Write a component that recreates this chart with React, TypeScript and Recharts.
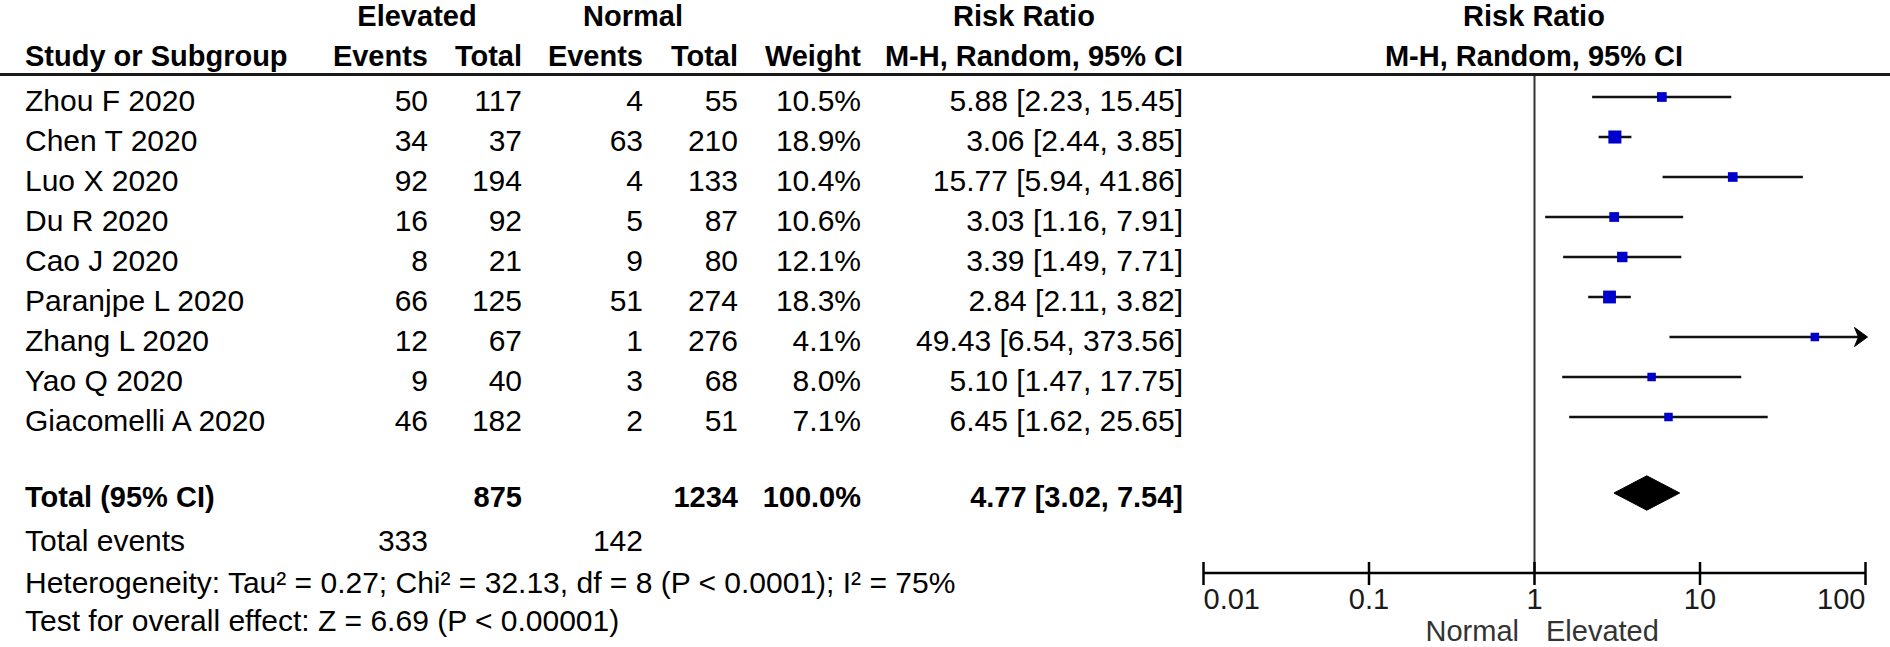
import React from 'react';
import { ComposedChart, XAxis, YAxis, Scatter, ReferenceLine, ReferenceDot, Area } from 'recharts';

// ---------- data ----------
const studies = ['Zhou F 2020', 'Chen T 2020', 'Luo X 2020', 'Du R 2020', 'Cao J 2020', 'Paranjpe L 2020', 'Zhang L 2020', 'Yao Q 2020', 'Giacomelli A 2020'];
const elevatedEvents = [50, 34, 92, 16, 8, 66, 12, 9, 46];
const elevatedTotal = [117, 37, 194, 92, 21, 125, 67, 40, 182];
const normalEvents = [4, 63, 4, 5, 9, 51, 1, 3, 2];
const normalTotal = [55, 210, 133, 87, 80, 274, 276, 68, 51];
const weights = [10.5, 18.9, 10.4, 10.6, 12.1, 18.3, 4.1, 8.0, 7.1];
const riskRatio = [5.88, 3.06, 15.77, 3.03, 3.39, 2.84, 49.43, 5.10, 6.45];
const ciLower = [2.23, 2.44, 5.94, 1.16, 1.49, 2.11, 6.54, 1.47, 1.62];
const ciUpper = [15.45, 3.85, 41.86, 7.91, 7.71, 3.82, 373.56, 17.75, 25.65];

const pooledEstimate = [4.77, 3.02, 7.54]; // RR, lower, upper
const pooledTotals = [875, 1234]; // elevated total, normal total
const pooledWeight = [100.0];
const totalEvents = [333, 142];
const xTicks = [0.01, 0.1, 1, 10, 100];
const xDomain = [0.01, 100];

// ---------- layout / style ----------
const W = 1890;
const H = 647;
const FONT = '"Liberation Sans", Arial, sans-serif';
const FS = 30;
const FSB = 29;
const TOTAL_ROW = 9.9;
const TEXT_DY = 14;
const DIAMOND_HALF = 0.43;
const COL = { name: 25, eEv: 428, eTot: 522, nEv: 643, nTot: 738, wt: 861, ci: 1183 };

const fmtCI = (r: number, l: number, u: number) => `${r.toFixed(2)} [${l.toFixed(2)}, ${u.toFixed(2)}]`;

const scatterData = studies.map((s, i) => ({ x: riskRatio[i], y: i, w: weights[i] }));
const diamondData = [
  { x: pooledEstimate[1], band: [TOTAL_ROW, TOTAL_ROW] },
  { x: pooledEstimate[0], band: [TOTAL_ROW - DIAMOND_HALF, TOTAL_ROW + DIAMOND_HALF] },
  { x: pooledEstimate[2], band: [TOTAL_ROW, TOTAL_ROW] },
];
const rowTicks = [...studies.map((_, i) => i), TOTAL_ROW];

const RowTick = (props: any) => {
  const { y, payload } = props;
  const v = payload.value;
  const base = y + TEXT_DY;
  if (v === TOTAL_ROW) {
    return (
      <g fontFamily={FONT} fontSize={FSB} fontWeight="bold" fill="#000">
        <text x={COL.name} y={base} textAnchor="start">Total (95% CI)</text>
        <text x={COL.eTot} y={base} textAnchor="end">{pooledTotals[0]}</text>
        <text x={COL.nTot} y={base} textAnchor="end">{pooledTotals[1]}</text>
        <text x={COL.wt} y={base} textAnchor="end">{`${pooledWeight[0].toFixed(1)}%`}</text>
        <text x={COL.ci} y={base} textAnchor="end">{fmtCI(pooledEstimate[0], pooledEstimate[1], pooledEstimate[2])}</text>
      </g>
    );
  }
  const i = v as number;
  return (
    <g fontFamily={FONT} fontSize={FS} fill="#000">
      <text x={COL.name} y={base} textAnchor="start">{studies[i]}</text>
      <text x={COL.eEv} y={base} textAnchor="end">{elevatedEvents[i]}</text>
      <text x={COL.eTot} y={base} textAnchor="end">{elevatedTotal[i]}</text>
      <text x={COL.nEv} y={base} textAnchor="end">{normalEvents[i]}</text>
      <text x={COL.nTot} y={base} textAnchor="end">{normalTotal[i]}</text>
      <text x={COL.wt} y={base} textAnchor="end">{`${weights[i].toFixed(1)}%`}</text>
      <text x={COL.ci} y={base} textAnchor="end">{fmtCI(riskRatio[i], ciLower[i], ciUpper[i])}</text>
    </g>
  );
};

const XTick = (props: any) => {
  const { x, y, payload } = props;
  const v = payload.value;
  const anchor = v === xTicks[0] ? 'start' : v === xTicks[xTicks.length - 1] ? 'end' : 'middle';
  return (
    <g>
      <line x1={x} x2={x} y1={y - 11} y2={y + 12} stroke="#000" strokeWidth={2.5} />
      <text x={x} y={y + 36} textAnchor={anchor} fontFamily={FONT} fontSize={29} fill="#1a1a1a">{String(v)}</text>
    </g>
  );
};

const Square = (props: any) => {
  const { cx, cy, payload } = props;
  const s = Math.max(8.5, 3 * Math.sqrt(payload.w));
  return <rect x={cx - s / 2} y={cy - s / 2} width={s} height={s} fill="#0000CC" />;
};

const Arrow = (props: any) => {
  const { cx, cy } = props;
  return <polygon points={`${cx + 2},${cy} ${cx - 11},${cy - 9.5} ${cx - 7},${cy} ${cx - 11},${cy + 9.5}`} fill="#000" stroke="#000" strokeWidth={1} strokeLinejoin="round" />;
};

const Overlay = () => (
  <svg width={W} height={H} style={{ position: 'absolute', left: 0, top: 0, pointerEvents: 'none' }}>
    <g fontFamily={FONT} fontSize={FSB} fontWeight="bold" fill="#000">
      <text x={417} y={25.5} textAnchor="middle">Elevated</text>
      <text x={633} y={25.5} textAnchor="middle">Normal</text>
      <text x={1024} y={25.5} textAnchor="middle">Risk Ratio</text>
      <text x={1534} y={25.5} textAnchor="middle">Risk Ratio</text>
      <text x={COL.name} y={65.5} textAnchor="start">Study or Subgroup</text>
      <text x={COL.eEv} y={65.5} textAnchor="end">Events</text>
      <text x={COL.eTot} y={65.5} textAnchor="end">Total</text>
      <text x={COL.nEv} y={65.5} textAnchor="end">Events</text>
      <text x={COL.nTot} y={65.5} textAnchor="end">Total</text>
      <text x={COL.wt} y={65.5} textAnchor="end">Weight</text>
      <text x={COL.ci} y={65.5} textAnchor="end">M-H, Random, 95% CI</text>
      <text x={1534} y={65.5} textAnchor="middle">M-H, Random, 95% CI</text>
    </g>
    <line x1={0} x2={W} y1={74.5} y2={74.5} stroke="#1a1a1a" strokeWidth={3} />
    <g fontFamily={FONT} fontSize={FS} fill="#000">
      <text x={COL.name} y={551} textAnchor="start">Total events</text>
      <text x={COL.eEv} y={551} textAnchor="end">{totalEvents[0]}</text>
      <text x={COL.nEv} y={551} textAnchor="end">{totalEvents[1]}</text>
      <text x={COL.name} y={593} textAnchor="start">Heterogeneity: Tau² = 0.27; Chi² = 32.13, df = 8 (P &lt; 0.0001); I² = 75%</text>
      <text x={COL.name} y={631} textAnchor="start">Test for overall effect: Z = 6.69 (P &lt; 0.00001)</text>
    </g>
    <g fontFamily={FONT} fontSize={29} fill="#333">
      <text x={1519} y={641} textAnchor="end">Normal</text>
      <text x={1546} y={641} textAnchor="start">Elevated</text>
    </g>
  </svg>
);

export default function App() {
  return (
    <div style={{ position: 'absolute', left: 0, top: 0, width: W, height: H, background: '#fff' }}>
      <ComposedChart width={W} height={H} margin={{ top: 75, right: 24.5, bottom: 0, left: 1201.5 }}>
        <XAxis
          type="number"
          dataKey="x"
          scale="log"
          domain={xDomain}
          ticks={xTicks}
          interval={0}
          allowDataOverflow
          height={74}
          tickLine={false}
          tickSize={0}
          tickMargin={0}
          axisLine={{ stroke: '#000', strokeWidth: 2.5 }}
          tick={(p: any) => <XTick {...p} />}
        />
        <YAxis
          type="number"
          dataKey="y"
          domain={[-0.55, 11.9]}
          reversed
          allowDataOverflow
          width={2}
          ticks={rowTicks}
          interval={0}
          axisLine={false}
          tickLine={false}
          tickSize={0}
          tickMargin={0}
          tick={(p: any) => <RowTick {...p} />}
        />
        <ReferenceLine x={1} stroke="#333" strokeWidth={2} />
        {studies.map((s, i) => (
          <ReferenceLine
            key={s}
            segment={[
              { x: ciLower[i], y: i },
              { x: Math.min(ciUpper[i], xDomain[1]), y: i },
            ]}
            stroke="#111"
            strokeWidth={2.6}
          />
        ))}
        {studies.map((s, i) =>
          ciUpper[i] > xDomain[1] ? (
            <ReferenceDot key={`a-${s}`} x={xDomain[1]} y={i} ifOverflow="visible" shape={(p: any) => <Arrow {...p} />} />
          ) : null
        )}
        <Area
          data={diamondData}
          dataKey="band"
          type="linear"
          stroke="#000"
          strokeWidth={1}
          fill="#000"
          fillOpacity={1}
          dot={false}
          activeDot={false}
          isAnimationActive={false}
        />
        <Scatter data={scatterData} shape={(p: any) => <Square {...p} />} isAnimationActive={false} />
      </ComposedChart>
      <Overlay />
    </div>
  );
}
